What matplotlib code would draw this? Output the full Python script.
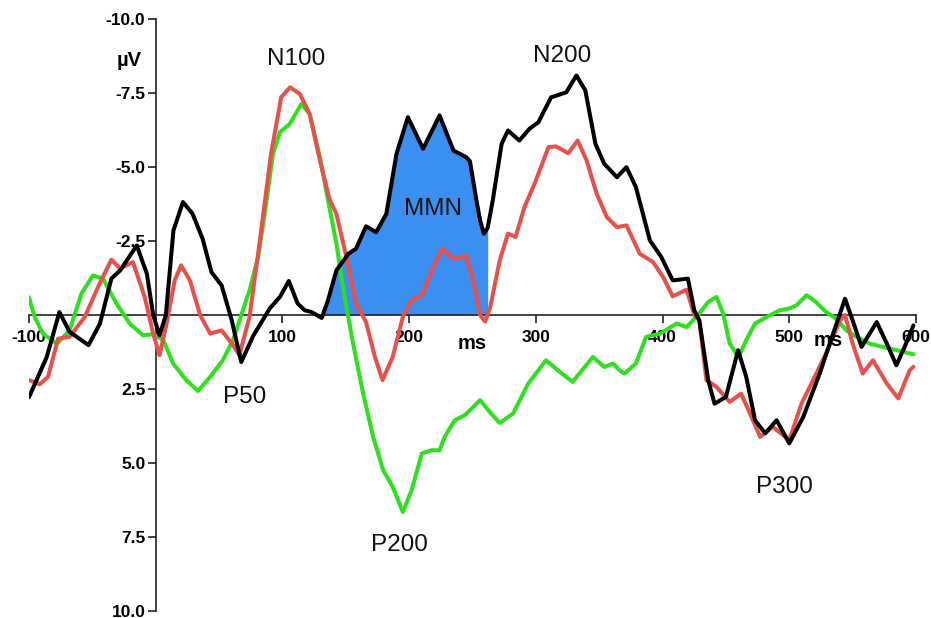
import matplotlib
matplotlib.use("Agg")
import matplotlib.pyplot as plt
import numpy as np

# ---- data (ms, µV) ----
black_t = [-100, -86, -76, -68, -53, -44, -35, -28, -15, -7, -2, 3, 8, 14, 21.5, 29, 37, 44, 52, 60,
           67.5, 77, 90, 98, 105, 112, 117.6, 123, 131, 136, 142.6, 152, 158, 166, 174, 182, 190,
           199, 211, 224, 235, 245, 248, 253, 256, 259, 262, 266, 273, 278, 287, 295, 302, 312,
           324, 332, 339, 347, 354, 364, 371.5, 379, 390, 399, 408, 420, 425, 429, 436, 441, 450,
           459.6, 466, 473, 481, 490, 500, 511, 524, 534.6, 544, 550, 557, 569, 577, 584.5, 591, 598]
black_v = [2.78, 1.42, -0.1, 0.57, 1.02, 0.29, -1.23, -1.51, -2.35, -1.4, 0.0, 0.69, 0.0, -2.86,
           -3.82, -3.43, -2.58, -1.45, -1.0, 0.18, 1.59, 0.7, -0.22, -0.61, -1.15, -0.39, -0.16,
           -0.1, 0.1, -0.5, -1.51, -2.07, -2.24, -3.0, -2.8, -3.42, -5.45, -6.69, -5.62, -6.75,
           -5.56, -5.34, -5.2, -3.9, -3.2, -2.75, -2.95, -3.88, -5.79, -6.24, -5.9, -6.3, -6.52,
           -7.36, -7.53, -8.1, -7.6, -5.79, -5.11, -4.66, -5.0, -4.32, -2.52, -1.96, -1.17, -1.23,
           -0.16, 0.18, 2.2, 3.0, 2.77, 1.19, 2.09, 3.56, 4.0, 3.56, 4.34, 3.45, 1.98, 0.63, -0.55,
           0.18, 1.08, 0.24, 0.97, 1.7, 1.08, 0.35]

red_t = [-100, -91.5, -85, -77, -68, -56, -45.5, -35, -28, -18, -8.7, -2, 3, 8, 15, 20, 27, 35, 43,
         52, 61, 66, 74, 82, 91, 99, 106, 113.7, 121.5, 129, 137, 142.6, 150.5, 158, 166, 173, 179,
         187, 195, 202, 210, 218, 226, 235, 245, 250.5, 256, 260, 264, 271.5, 278, 284, 291, 299,
         310, 316, 325.5, 333, 340, 348, 356, 364, 371.5, 382, 392.5, 400.5, 408, 419, 425, 429,
         434.6, 442.5, 453, 462, 469, 477, 487, 500, 509.6, 518.8, 529, 540, 544, 550, 558, 566,
         577, 586, 595, 598]
red_v = [2.2, 2.34, 2.09, 0.8, 0.74, 0.07, -0.95, -1.87, -1.57, -1.79, -0.61, 0.63, 1.36, 0.41,
         -1.17, -1.68, -1.17, 0.0, 0.63, 0.52, 1.02, 1.36, 0.07, -2.45, -5.45, -7.36, -7.7, -7.48,
         -6.8, -5.34, -3.93, -3.42, -1.96, -0.39, 0.24, 1.42, 2.2, 1.42, 0.07, -0.5, -0.67, -1.51,
         -2.24, -1.9, -2.0, -1.17, 0.0, 0.22, -0.27, -1.85, -2.75, -2.64, -3.65, -4.44, -5.68,
         -5.7, -5.47, -5.9, -5.23, -4.1, -3.31, -2.97, -3.03, -2.07, -1.79, -1.28, -0.63, -0.86,
         0.0, 0.18, 2.2, 2.43, 2.94, 2.66, 3.33, 4.12, 3.78, 4.23, 3.0, 2.2, 1.3, 0.18, 0.0, 0.97,
         1.98, 1.53, 2.32, 2.82, 1.87, 1.75]

green_t = [-100, -95.5, -89, -78, -68, -58.6, -49.5, -41.6, -31, -20.5, -10, -2, 6, 13.7, 24, 33.4,
           43, 53, 61, 67.6, 74, 81, 86, 92.6, 98, 105.8, 115, 121.5, 129, 135, 142.6, 149, 155.8,
           163.7, 171.6, 179.5, 187, 195, 202, 210, 218, 224, 228, 236, 244, 256, 263.6, 271.5,
           282, 294, 308, 319, 329, 345, 354, 361, 366, 370, 379, 387, 398, 411, 419, 429, 436,
           442.5, 447.8, 453, 460, 466, 473, 482, 492.5, 500, 505.7, 513.6, 521, 529, 537, 545,
           553, 563.5, 574, 584.6, 598]
green_v = [-0.6, 0.07, 0.63, 0.97, 0.52, -0.72, -1.34, -1.23, -0.39, 0.29, 0.69, 0.65, 0.85, 1.64,
           2.2, 2.57, 2.09, 1.53, 0.85, 0.0, -0.83, -2.0, -3.42, -5.45, -6.18, -6.46, -7.14, -6.8,
           -5.45, -4.1, -2.41, -0.61, 0.97, 2.66, 4.12, 5.25, 5.81, 6.66, 5.92, 4.68, 4.57, 4.58,
           4.12, 3.56, 3.39, 2.88, 3.28, 3.65, 3.33, 2.32, 1.53, 1.93, 2.26, 1.42, 1.76, 1.64,
           1.87, 1.98, 1.64, 0.74, 0.63, 0.29, 0.41, -0.05, -0.44, -0.61, -0.05, 0.97, 1.42, 0.85,
           0.29, 0.07, -0.16, -0.22, -0.33, -0.67, -0.44, -0.1, 0.12, 0.52, 0.74, 0.97, 1.08,
           1.19, 1.33]

mmn_window = (131, 262)

x_ticks = [-100, 100, 200, 300, 400, 500, 600]
x_labels = ["-100", "100", "200", "300", "400", "500", "600"]
y_ticks = [-10, -7.5, -5, -2.5, 2.5, 5, 7.5, 10]
y_labels = ["-10.0", "-7.5", "-5.0", "-2.5", "2.5", "5.0", "7.5", "10.0"]

annotations = [("N100", 110.5, -8.67), ("P50", 70, 2.78), ("MMN", 218.6, -3.6),
               ("P200", 192.6, 7.78), ("N200", 321, -8.77), ("P300", 496, 5.82)]

# ---- figure ----
fig = plt.figure(figsize=(9.31, 6.18), dpi=100)
ax = fig.add_axes([29 / 931, 1 - 610.7 / 618, 887 / 931, (610.7 - 19.3) / 618])
ax.set_xlim(-100, 600)
ax.set_ylim(10, -10)

for s in ["top", "right"]:
    ax.spines[s].set_visible(False)
ax.spines["left"].set_position(("data", 0))
ax.spines["bottom"].set_position(("data", 0))
for s in ["left", "bottom"]:
    ax.spines[s].set_linewidth(1.2)
    ax.spines[s].set_color("#222222")
    ax.spines[s].set_zorder(1)

bt = np.array(black_t)
bv = np.array(black_v)
m = (bt >= mmn_window[0]) & (bt <= mmn_window[1])
ax.fill_between(bt[m], bv[m], 0, color="#3a8ff0", linewidth=0, zorder=0.5)

lw = 2.9
style = dict(lw=lw, solid_joinstyle="round", solid_capstyle="round")
ax.plot(green_t, green_v, color="#2ee01e", zorder=2, **style)
ax.plot(red_t, red_v, color="#e8504c", zorder=3, **style)
ax.plot(black_t, black_v, color="black", zorder=4, **style)

tickfont = dict(family="Liberation Sans", weight="bold", size=12.5)
ax.set_xticks(x_ticks)
ax.set_xticklabels(x_labels, **tickfont)
ax.set_yticks(y_ticks)
ax.set_yticklabels(y_labels, **tickfont)
ax.tick_params(axis="x", direction="out", length=6, width=1.2, pad=5, colors="#222222")
ax.tick_params(axis="y", direction="out", length=6, width=1.2, pad=1.5, colors="#222222")
for lab in ax.get_xticklabels() + ax.get_yticklabels():
    lab.set_color("black")

for txt, x, y in annotations:
    ax.text(x, y, txt, ha="center", va="center", fontsize=17.5, family="Liberation Sans",
            color="#111111", zorder=5)

unitfont = dict(family="Liberation Sans", weight="bold", size=14.5)
ax.text(249.4, 0.95, "ms", ha="center", va="center", **unitfont)
ax.text(531, 0.85, "ms", ha="center", va="center", **unitfont)
ax.text(-21, -8.6, "µV", ha="center", va="center", **unitfont)

fig.savefig("out.png", dpi=100)
